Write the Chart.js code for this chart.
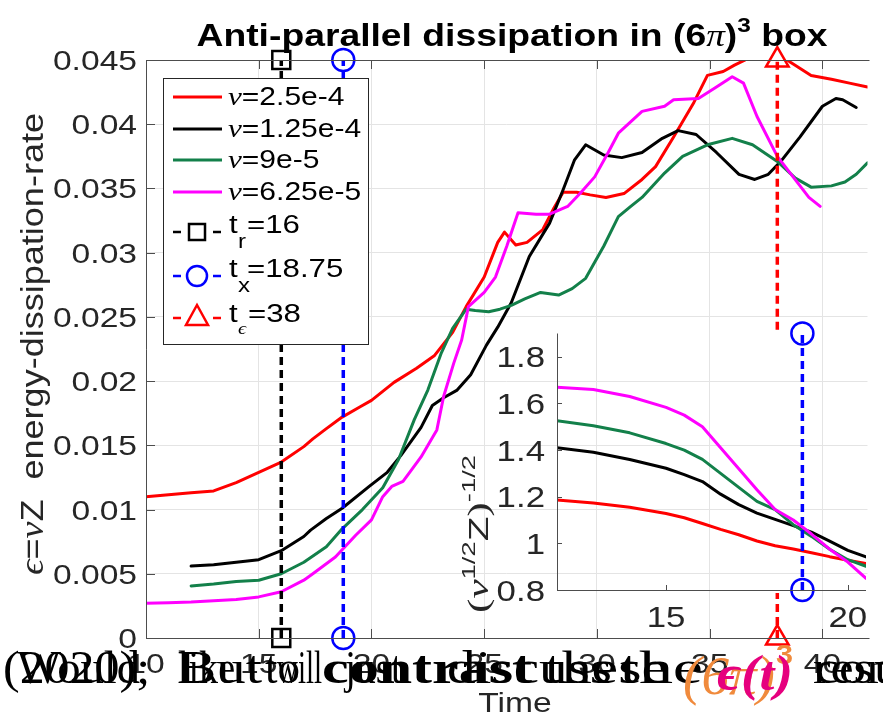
<!DOCTYPE html>
<html>
<head>
<meta charset="utf-8">
<script src="https://cdn.jsdelivr.net/npm/chart.js@4.4.1/dist/chart.umd.min.js"></script>
<style>
  body { margin: 0; background: #fff; }
  #wrap { position: relative; width: 883px; height: 716px; overflow: hidden; }
  #wrap canvas { position: absolute; }
  #main { left: 0; top: 0; }
  #inset { left: 460px; top: 320px; }
</style>
</head>
<body>
<div id="wrap">
  <canvas id="main" width="883" height="716"></canvas>
  <canvas id="inset" width="423" height="320"></canvas>
</div>
<script>
// ---------- dados ----------
const timeTicks = [10, 15, 20, 25, 30, 35, 40]
const epsTicks = [0, 0.005, 0.01, 0.015, 0.02, 0.025, 0.03, 0.035, 0.04, 0.045]
const epsTickLabels = ['0', '0.005', '0.01', '0.015', '0.02', '0.025', '0.03', '0.035', '0.04', '0.045']

const viscLabels = ['2.5e-4', '1.25e-4', '9e-5', '6.25e-5']
const viscColors = ['#ff0000', '#000000', '#13804a', '#ff00ff']

// nu = 2.5e-4
const tNu1 = [10, 11, 12, 13, 14, 15, 16, 17, 17.4, 18, 18.7, 19.5, 20, 21, 22, 22.8, 23.6, 24.2, 25, 25.6, 25.9, 26.4, 26.9, 27.6, 28.1, 28.5, 29.1, 29.7, 30.4, 31.2, 32, 32.6, 33.4, 34.3, 34.9, 35.6, 36.1, 36.8, 37.4, 38, 38.6, 39.5, 40.4, 41.2, 42]
const epsNu1 = [0.0110, 0.01115, 0.0113, 0.01145, 0.0121, 0.0129, 0.0137, 0.0149, 0.0155, 0.0163, 0.0172, 0.0180, 0.0185, 0.0199, 0.0210, 0.0220, 0.0238, 0.0258, 0.0281, 0.0308, 0.0316, 0.0306, 0.0308, 0.0318, 0.0335, 0.0347, 0.0347, 0.0345, 0.0343, 0.0346, 0.0357, 0.0367, 0.0390, 0.0417, 0.0438, 0.0441, 0.0446, 0.0452, 0.0458, 0.0456, 0.0448, 0.0438, 0.0435, 0.0432, 0.0429]

// nu = 1.25e-4
const tNu2 = [12, 13, 14, 15, 16, 17, 17.3, 18, 18.7, 19.9, 20.7, 21.3, 22.2, 22.7, 23.2, 23.8, 24.4, 25.1, 25.6, 26.2, 27, 27.9, 28.5, 29, 29.5, 30.3, 31.1, 32, 32.9, 33.6, 34.4, 35.3, 36.3, 37, 37.6, 38.2, 39, 40, 40.6, 40.9, 41.5]
const epsNu2 = [0.0056, 0.0057, 0.0059, 0.0061, 0.0068, 0.0079, 0.0084, 0.0093, 0.0101, 0.0118, 0.0129, 0.0142, 0.0164, 0.0181, 0.0187, 0.0193, 0.0205, 0.0228, 0.0242, 0.0261, 0.0297, 0.0323, 0.0349, 0.0372, 0.0384, 0.0376, 0.0374, 0.0378, 0.0389, 0.0395, 0.0392, 0.0378, 0.0361, 0.0357, 0.0361, 0.0372, 0.0390, 0.0414, 0.0420, 0.0419, 0.0413]

// nu = 9e-5
const tNu3 = [12, 13, 14, 15, 16, 17, 18, 18.7, 19.6, 20.5, 21.2, 21.9, 22.5, 23.1, 23.6, 24.2, 24.6, 25.2, 25.7, 26.2, 26.8, 27.5, 28.3, 28.9, 29.5, 30.3, 30.95, 31.5, 32, 33, 33.8, 34.9, 36, 36.9, 38, 38.8, 39.5, 40.4, 41, 41.5, 42]
const epsNu3 = [0.00405, 0.0042, 0.0044, 0.0045, 0.0050, 0.0059, 0.0071, 0.0085, 0.0100, 0.0117, 0.0139, 0.0170, 0.0193, 0.0222, 0.0241, 0.0256, 0.0255, 0.0254, 0.0256, 0.0259, 0.0264, 0.0269, 0.0267, 0.0272, 0.0280, 0.0305, 0.0328, 0.0336, 0.0343, 0.0362, 0.0375, 0.0384, 0.0389, 0.0384, 0.0371, 0.0358, 0.0351, 0.0352, 0.0355, 0.0361, 0.0370]

// nu = 6.25e-5
const tNu4 = [10, 11, 12, 13, 14, 15, 16, 17, 17.4, 18.4, 19.3, 20, 20.5, 20.9, 21.4, 22.2, 22.9, 23.2, 23.65, 24, 24.3, 25, 25.5, 26, 26.5, 27.3, 27.9, 28.7, 29.3, 29.9, 30.5, 30.95, 32, 33, 33.4, 34.5, 35.3, 36, 36.5, 37.1, 38, 38.7, 39.4, 39.9]
const epsNu4 = [0.0027, 0.00275, 0.0028, 0.0029, 0.0030, 0.0032, 0.0036, 0.0045, 0.0050, 0.0063, 0.0080, 0.0092, 0.0110, 0.0118, 0.0122, 0.0141, 0.0162, 0.0188, 0.0214, 0.0232, 0.0258, 0.0269, 0.0281, 0.0305, 0.0331, 0.0330, 0.0330, 0.0336, 0.0347, 0.0359, 0.0378, 0.0393, 0.0410, 0.0414, 0.0419, 0.0420, 0.0429, 0.0437, 0.0432, 0.0406, 0.0375, 0.0359, 0.0343, 0.0336]

// tempos marcados
const tR = 16
const tX = 18.75
const tEps = 38
const epsMax = 0.045
// trecho do t_eps escondido atrás do inset
const tEpsGapLow = 0.0035
const tEpsGapHigh = 0.024

// inset: (nu^1/2 Z)^-1/2
const insetTime = [12, 13, 14, 15, 15.5, 16, 16.5, 17, 17.5, 18, 18.5, 19, 19.5, 20, 20.5]
const insetNu1 = [1.186, 1.173, 1.155, 1.128, 1.110, 1.085, 1.060, 1.037, 1.010, 0.990, 0.976, 0.960, 0.943, 0.928, 0.913]
const insetNu2 = [1.410, 1.391, 1.360, 1.322, 1.295, 1.265, 1.211, 1.166, 1.130, 1.103, 1.076, 1.048, 1.010, 0.970, 0.942]
const insetNu3 = [1.526, 1.504, 1.474, 1.428, 1.400, 1.360, 1.300, 1.240, 1.180, 1.145, 1.080, 1.030, 0.975, 0.930, 0.902]
const insetNu4 = [1.669, 1.660, 1.630, 1.583, 1.550, 1.500, 1.410, 1.320, 1.230, 1.145, 1.100, 1.040, 0.975, 0.920, 0.850]
const insetTicksX = [15, 20]
const insetTicksY = [0.8, 1, 1.2, 1.4, 1.6, 1.8]
const insetTickLabels = ['0.8', '1', '1.2', '1.4', '1.6', '1.8']
const insetYMax = 1.9

////////////////////////// FUNÇÕES //////////////////////////////////////

const SANS = '"Liberation Sans", Arial, sans-serif'
const SERIF = '"Liberation Serif", "Times New Roman", serif'
const SX = 1.2
const TICK_COLOR = '#262626'

const pts = (xs, ys) => xs.map((x, i) => ({ x: x, y: ys[i] }))

function curve(data, color) {
    return {
        data: data,
        borderColor: color,
        borderWidth: 3,
        pointRadius: 0,
        borderJoinStyle: 'round',
        borderCapStyle: 'round',
        tension: 0
    }
}

function markerLine(data, color, style, radii) {
    return {
        data: data,
        borderColor: color,
        borderWidth: 3.5,
        borderDash: [8, 5],
        pointStyle: style,
        pointRadius: radii,
        pointBorderWidth: 2.5,
        pointBorderColor: color,
        pointBackgroundColor: 'rgba(0,0,0,0)',
        clip: false
    }
}

// texto em partes (fontes diferentes), com esticamento horizontal
function drawRuns(ctx, runs, x, y, align, sx, fit) {
    ctx.save()
    ctx.textAlign = 'left'
    ctx.textBaseline = 'alphabetic'
    let w = 0
    runs.forEach(r => { ctx.font = r[1]; w += ctx.measureText(r[0]).width })
    if (fit) sx = fit / w
    const total = w * sx
    const x0 = align === 'center' ? x - total / 2 : align === 'right' ? x - total : x
    ctx.translate(x0, y)
    ctx.scale(sx, 1)
    let cx = 0
    runs.forEach(r => {
        ctx.font = r[1]
        ctx.fillStyle = r[2] || '#000'
        ctx.fillText(r[0], cx, r[3] || 0)
        cx += ctx.measureText(r[0]).width
    })
    ctx.restore()
}

function drawRotated(ctx, runs, cx, cy, fit) {
    ctx.save()
    ctx.translate(cx, cy)
    ctx.rotate(-Math.PI / 2)
    drawRuns(ctx, runs, 0, 0, 'center', 1, fit)
    ctx.restore()
}

function legendMarker(ctx, style, x, y, color) {
    ctx.save()
    ctx.strokeStyle = color
    ctx.lineWidth = 2.5
    ctx.beginPath()
    ctx.moveTo(173, y); ctx.lineTo(181, y)
    ctx.moveTo(213, y); ctx.lineTo(221, y)
    ctx.stroke()
    ctx.beginPath()
    if (style === 'rect') ctx.rect(x - 8, y - 8, 16, 16)
    if (style === 'circle') ctx.arc(x, y, 10, 0, Math.PI * 2)
    if (style === 'triangle') { ctx.moveTo(x, y - 13); ctx.lineTo(x + 11, y + 7); ctx.lineTo(x - 11, y + 7); ctx.closePath() }
    ctx.stroke()
    ctx.restore()
}

// eixos, legenda, títulos e o texto sobreposto no rodapé
const mainDecor = {
    id: 'mainDecor',
    afterDraw(chart) {
        const ctx = chart.ctx
        const a = chart.chartArea
        const sx = chart.scales.x
        const sy = chart.scales.y

        // caixa e ticks para dentro
        ctx.save()
        ctx.strokeStyle = '#4d4d4d'
        ctx.lineWidth = 1
        ctx.beginPath()
        ctx.moveTo(a.left + 0.5, a.top + 0.5); ctx.lineTo(a.right + 2, a.top + 0.5)
        ctx.moveTo(a.left + 0.5, a.top); ctx.lineTo(a.left + 0.5, a.bottom + 0.5)
        ctx.lineTo(a.right + 2, a.bottom + 0.5)
        timeTicks.forEach(v => {
            const px = Math.round(sx.getPixelForValue(v)) + 0.5
            ctx.moveTo(px, a.bottom); ctx.lineTo(px, a.bottom - 9)
            ctx.moveTo(px, a.top); ctx.lineTo(px, a.top + 9)
        })
        epsTicks.forEach(v => {
            const py = Math.round(sy.getPixelForValue(v)) + 0.5
            ctx.moveTo(a.left, py); ctx.lineTo(a.left + 9, py)
        })
        ctx.stroke()
        ctx.restore()

        // rótulos dos ticks
        epsTicks.forEach((v, i) => {
            drawRuns(ctx, [[epsTickLabels[i], '28px ' + SANS, TICK_COLOR]], a.left - 9, sy.getPixelForValue(v) + 10, 'right', SX)
        })
        timeTicks.forEach(v => {
            drawRuns(ctx, [[String(v), '28px ' + SANS, TICK_COLOR]], sx.getPixelForValue(v), a.bottom + 35, 'center', SX)
        })

        // legenda
        ctx.save()
        ctx.fillStyle = '#fff'
        ctx.fillRect(163, 78, 205, 266)
        ctx.strokeStyle = '#262626'
        ctx.lineWidth = 1
        ctx.strokeRect(163.5, 78.5, 205, 266)
        const rowY = [97, 129, 160, 192]
        viscLabels.forEach((lab, i) => {
            ctx.strokeStyle = viscColors[i]
            ctx.lineWidth = 3
            ctx.beginPath(); ctx.moveTo(173, rowY[i]); ctx.lineTo(222, rowY[i]); ctx.stroke()
            drawRuns(ctx, [['\u03bd', 'italic 26px ' + SERIF], ['=' + lab, '25px ' + SANS]], 228, rowY[i] + 8, 'left', SX)
        })
        ctx.restore()
        legendMarker(ctx, 'rect', 197, 232, '#000')
        drawRuns(ctx, [['t', '26px ' + SANS]], 229, 233, 'left', SX)
        drawRuns(ctx, [['r', '20px ' + SANS]], 238, 248, 'left', SX)
        drawRuns(ctx, [['=16', '26px ' + SANS]], 247, 233, 'left', SX)
        legendMarker(ctx, 'circle', 197, 276, '#0000ff')
        drawRuns(ctx, [['t', '26px ' + SANS]], 229, 277, 'left', SX)
        drawRuns(ctx, [['x', '20px ' + SANS]], 238, 292, 'left', SX)
        drawRuns(ctx, [['=18.75', '26px ' + SANS]], 247, 277, 'left', SX)
        legendMarker(ctx, 'triangle', 197, 318, '#ff0000')
        drawRuns(ctx, [['t', '26px ' + SANS]], 229, 322, 'left', SX)
        drawRuns(ctx, [['\u03f5', 'italic 17px ' + SERIF]], 238, 334, 'left', SX)
        drawRuns(ctx, [['=38', '26px ' + SANS]], 248, 322, 'left', SX)

        // título e eixos
        drawRuns(ctx, [
            ['Anti-parallel dissipation in (6', 'bold 32px ' + SANS],
            ['\u03c0', 'italic 32px ' + SERIF],
            [')', 'bold 32px ' + SANS],
            ['3', 'bold 21px ' + SANS, '#000', -14],
            [' box', 'bold 32px ' + SANS]
        ], 512, 46, 'center', 1, 631)
        drawRuns(ctx, [['Time', '28px ' + SANS, TICK_COLOR]], 515, 712, 'center', SX)
        drawRotated(ctx, [
            ['\u03f5', 'italic 34px ' + SERIF, TICK_COLOR],
            ['=', '32px ' + SANS, TICK_COLOR],
            ['\u03bd', 'italic 34px ' + SERIF, TICK_COLOR],
            ['Z  energy-dissipation-rate', '32px ' + SANS, TICK_COLOR]
        ], 43, 344, 462)

        // texto do documento que ficou por cima da figura
        const serif = '46px "Liberation Serif", serif'
        const words = [
            ['Would', 17, 140, serif], ['like', 178, 235, serif], ['to', 265, 300, serif],
            ['contrast', 322, 532, 'bold ' + serif], ['these', 545, 668, serif], ['resu', 813, 900, serif],
            ['(2020);', 3, 150, serif], ['But', 177, 262, serif], ['will', 277, 322, serif],
            ['just', 345, 402, serif], ['discuss', 447, 612, serif], ['the', 620, 703, serif], ['con', 815, 893, serif]
        ]
        words.forEach(w => drawRuns(ctx, [[w[0], w[3], '#000']], w[1], 683, 'left', 1, w[2] - w[1]))
        drawRuns(ctx, [['(6\u03c0)', 'italic 54px ' + SERIF, '#f08a3c']], 683, 694, 'left', 1, 92)
        drawRuns(ctx, [['3', 'bold 28px ' + SANS, '#f08a3c']], 776, 664, 'left', 1, 17)
        drawRuns(ctx, [['\u03f5(', 'bold italic 50px ' + SERIF, '#e6007e'], ['t', 'bold italic 48px ' + SERIF, '#e6007e'], [')', 'bold italic 50px ' + SERIF, '#e6007e']], 717, 690, 'left', 1, 76)
    }
}

const insetDecor = {
    id: 'insetDecor',
    afterDraw(chart) {
        const ctx = chart.ctx
        const a = chart.chartArea
        const sx = chart.scales.x
        const sy = chart.scales.y
        ctx.save()
        ctx.strokeStyle = '#4d4d4d'
        ctx.lineWidth = 1
        ctx.beginPath()
        ctx.moveTo(a.left + 0.5, a.top); ctx.lineTo(a.left + 0.5, a.bottom + 0.5); ctx.lineTo(a.right, a.bottom + 0.5)
        insetTicksX.forEach(v => {
            const px = Math.round(sx.getPixelForValue(v)) + 0.5
            ctx.moveTo(px, a.bottom); ctx.lineTo(px, a.bottom - 5)
        })
        insetTicksY.forEach(v => {
            const py = Math.round(sy.getPixelForValue(v)) + 0.5
            ctx.moveTo(a.left, py); ctx.lineTo(a.left + 5, py)
        })
        ctx.stroke()
        ctx.restore()
        insetTicksY.forEach((v, i) => {
            drawRuns(ctx, [[insetTickLabels[i], '29px ' + SANS, TICK_COLOR]], a.left - 12, sy.getPixelForValue(v) + 10.5, 'right', SX)
        })
        insetTicksX.forEach(v => {
            drawRuns(ctx, [[String(v), '29px ' + SANS, TICK_COLOR]], sx.getPixelForValue(v), a.bottom + 37, 'center', SX)
        })
        drawRotated(ctx, [
            ['(', '30px ' + SERIF, TICK_COLOR],
            ['\u03bd', 'italic 30px ' + SERIF, TICK_COLOR],
            ['1/2', '19px ' + SANS, TICK_COLOR, -13],
            ['Z', '28px ' + SANS, TICK_COLOR],
            [')', '30px ' + SERIF, TICK_COLOR],
            ['-1/2', '19px ' + SANS, TICK_COLOR, -13]
        ], 28, 214, 158)
    }
}

//////////////////////////// GRÁFICOS ///////////////////////////////////

const mainDatasets = [
    markerLine([{ x: tR, y: 0 }, { x: tR, y: epsMax }], '#000000', 'rect', 12.7),
    markerLine([{ x: tX, y: 0 }, { x: tX, y: epsMax }], '#0000ff', 'circle', 11),
    markerLine([{ x: tEps, y: 0 }, { x: tEps, y: tEpsGapLow }], '#ff0000', 'triangle', [13, 0]),
    markerLine([{ x: tEps, y: tEpsGapHigh }, { x: tEps, y: epsMax }], '#ff0000', 'triangle', [0, 13]),
    curve(pts(tNu4, epsNu4), viscColors[3]),
    curve(pts(tNu3, epsNu3), viscColors[2]),
    curve(pts(tNu2, epsNu2), viscColors[1]),
    curve(pts(tNu1, epsNu1), viscColors[0])
]

new Chart(document.getElementById('main'), {
    type: 'line',
    data: { datasets: mainDatasets },
    options: {
        responsive: false,
        animation: false,
        devicePixelRatio: 1,
        layout: { padding: { top: 60, right: 1, left: 0, bottom: 0 } },
        plugins: { legend: { display: false }, tooltip: { enabled: false } },
        scales: {
            x: {
                type: 'linear', min: 10, max: 42,
                afterBuildTicks: s => { s.ticks = timeTicks.map(v => ({ value: v })) },
                afterFit: s => { s.height = 78 },
                ticks: { display: false },
                grid: { color: '#e4e4e4', drawTicks: false },
                border: { display: false }
            },
            y: {
                type: 'linear', min: 0, max: epsMax,
                afterBuildTicks: s => { s.ticks = epsTicks.map(v => ({ value: v })) },
                afterFit: s => { s.width = 146 },
                ticks: { display: false },
                grid: { color: '#e4e4e4', drawTicks: false },
                border: { display: false }
            }
        }
    },
    plugins: [mainDecor]
})

const insetDatasets = [
    markerLine([{ x: tX, y: 0.8 }, { x: tX, y: insetYMax }], '#0000ff', 'circle', 11),
    curve(pts(insetTime, insetNu4), viscColors[3]),
    curve(pts(insetTime, insetNu3), viscColors[2]),
    curve(pts(insetTime, insetNu2), viscColors[1]),
    curve(pts(insetTime, insetNu1), viscColors[0])
]

new Chart(document.getElementById('inset'), {
    type: 'line',
    data: { datasets: insetDatasets },
    options: {
        responsive: false,
        animation: false,
        devicePixelRatio: 1,
        layout: { padding: { top: 12, right: 17, left: 0, bottom: 0 } },
        plugins: { legend: { display: false }, tooltip: { enabled: false } },
        scales: {
            x: {
                type: 'linear', min: 12, max: 20.5,
                afterBuildTicks: s => { s.ticks = insetTicksX.map(v => ({ value: v })) },
                afterFit: s => { s.height = 50 },
                ticks: { display: false },
                grid: { display: false },
                border: { display: false }
            },
            y: {
                type: 'linear', min: 0.8, max: insetYMax,
                afterBuildTicks: s => { s.ticks = insetTicksY.map(v => ({ value: v })) },
                afterFit: s => { s.width = 97 },
                ticks: { display: false },
                grid: { display: false },
                border: { display: false }
            }
        }
    },
    plugins: [insetDecor]
})
</script>
</body>
</html>
